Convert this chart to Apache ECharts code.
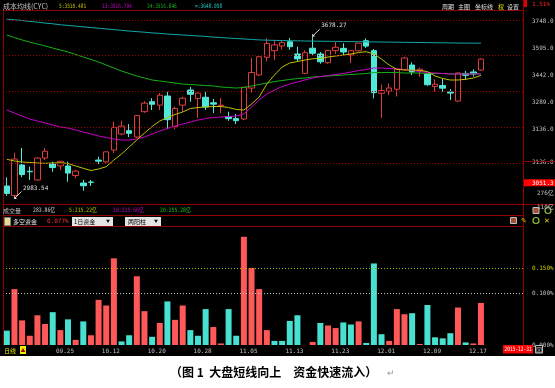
<!DOCTYPE html>
<html><head><meta charset="utf-8">
<script src="https://cdn.jsdelivr.net/npm/echarts@6/dist/echarts.min.js"></script>
<style>html,body{margin:0;padding:0;background:#fff}#c{width:555px;height:388px}</style>
</head><body><div id="c"></div>
<script>
const dates = ['09.15','09.16','09.17','09.18','09.21','09.22','09.23','09.24','09.25','09.28','09.29','09.30',
'10.08','10.09','10.12','10.13','10.14','10.15','10.16','10.19','10.20','10.21','10.22','10.23','10.26','10.27','10.28','10.29','10.30',
'11.02','11.03','11.04','11.05','11.06','11.09','11.10','11.11','11.12','11.13','11.16','11.17','11.18','11.19','11.20','11.23','11.24','11.25','11.26','11.27','11.30',
'12.01','12.02','12.03','12.04','12.07','12.08','12.09','12.10','12.11','12.14','12.15','12.16','12.17'];
const opens = [3037,2996,3127,3100,3063,3157,3131,3123,3122.6,3082,3049.8,3054,3148,3140,3191,3259.5,3273.6,3246.6,3354.9,3397.6,3383,3422,3290.7,3383,3447.7,3411,3416.7,3393,3380,3333.5,3326,3323.6,3456,3511.9,3587.6,3616,3635.8,3654,3601.7,3519,3626.5,3601.7,3564.5,3616,3626,3597.4,3615.8,3658.6,3616,3434,3442.6,3451,3536,3554.6,3530,3516,3462.6,3466.8,3439,3400.6,3518.6,3525,3533];
const closes = [3005.2,3152.3,3086.1,3097.9,3156.5,3185.6,3115.9,3142.7,3092.4,3100.8,3038.1,3052.8,3143.4,3183.2,3287.7,3293.2,3262.4,3338.1,3391.4,3386.7,3425.3,3320.7,3368.7,3412.4,3429.6,3434.3,3375.2,3387.3,3382.6,3325.1,3316.7,3459.6,3522.8,3590,3646.9,3640.5,3650.3,3632.9,3580.8,3607,3604.8,3568.5,3617.1,3630.5,3610.3,3616.1,3647.9,3635.6,3436.3,3445.4,3456.3,3536.9,3584.8,3525,3536.9,3470.1,3472.4,3455.5,3434.6,3520.7,3510.4,3516.2,3580];
const lows = [2995,2983.54,3075,3063,3060,3148,3098,3105,3055,3070,3017,3037,3131,3135,3178,3255,3246.6,3242,3350,3362,3362,3280,3280,3355,3397.6,3328,3362,3349,3349,3316,3302,3319,3437,3507,3570,3576,3620,3620,3568.7,3515,3596,3560,3560,3602,3597,3563,3612,3628,3412,3327.8,3426,3420,3530,3511.9,3505,3466,3440,3440,3405,3398,3490,3505,3530];
const highs = [3074,3180,3200,3120,3160,3200,3141,3144,3141,3106,3062.7,3063,3162,3184,3312,3316,3302,3340,3400,3413,3435,3440,3376,3419,3460.5,3436,3440,3409,3413,3355,3345,3460.5,3584.6,3597,3668.9,3661.6,3662,3670,3633,3618,3678.27,3610,3620,3653,3648,3618,3648.5,3668.9,3623,3470.8,3476,3538,3590,3566,3543,3520,3493.5,3496,3452,3523,3530,3536,3583];
const ma5 = [3151.2,3144,3139.7,3137.5,3135.4,3134.1,3135.4,3136.7,3133.3,3122.6,3112.7,3103.3,3109.7,3119.6,3148.2,3174,3203.8,3233.8,3263.7,3291.6,3315.1,3330,3342.9,3353.6,3368.5,3372.8,3375,3377.1,3377.1,3372.8,3364.3,3362.1,3387.8,3417.7,3473.3,3511.9,3546.1,3563.2,3569.6,3576,3581.2,3583.3,3588.9,3593.1,3597.4,3601.7,3608.1,3611.5,3601.7,3580,3554.6,3536.2,3533.2,3533.2,3531.1,3526.8,3507.6,3496.9,3490.5,3490.5,3493.5,3499,3510.5];
const ma13 = [3362.1,3349.3,3336.5,3323.6,3315.1,3306.5,3298,3289.4,3285.1,3276.6,3268,3259.4,3250.9,3244.5,3238.1,3233.8,3233.8,3238.1,3246.6,3259.4,3272.3,3283,3293.7,3302.2,3310.8,3319.3,3325.8,3330,3332.2,3334.3,3336.5,3345,3375,3404.9,3430.6,3447.7,3462.7,3473.3,3481.9,3490.5,3499,3505.4,3509.7,3514,3518.3,3524.7,3531.1,3535.4,3541.8,3541.8,3539.7,3537.5,3535.4,3531.1,3526.8,3522.5,3520.4,3518.3,3516.1,3516.1,3516.1,3516.5,3516.8];
const ma34 = [3683,3672,3661.6,3653,3644.5,3635.9,3627.4,3618.8,3610.2,3599.6,3588.9,3578.2,3567.5,3554.6,3541.8,3529,3518.3,3507.6,3499,3490.5,3486.2,3481.9,3477.6,3473.3,3471.2,3469.1,3467,3464.8,3460.5,3458.4,3456.2,3458.4,3464.8,3471.2,3477.6,3484,3488.3,3492.6,3496.9,3499,3503.3,3505.4,3507.6,3509.7,3511.9,3514,3516.1,3518.3,3522.5,3522.5,3522.5,3522.5,3520.4,3520.4,3520.4,3518.3,3518.3,3518.3,3516.1,3516.1,3516.5,3516.7,3516.8];
const maInf = [3751,3748,3745,3741,3738,3734,3731,3727,3724,3721,3718,3715,3712,3709,3706,3703,3700,3697.5,3695,3692,3690,3687,3685,3683,3681,3679,3677,3674,3672,3670,3668,3666,3664,3662,3661,3660,3659.4,3658.6,3658.2,3657.3,3656.9,3656.4,3656,3655.6,3655.2,3654.7,3654.3,3653.9,3653.5,3653,3652.6,3652.2,3651.7,3651.3,3650.9,3650.5,3650,3649.6,3649.2,3648.7,3648.4,3648.2,3648.1];
const maNames = ['5','13','34','∞'];
const maLast = ['3510.481','3516.794','3516.846','3648.058'];
const gridPrices = [3748,3595,3442,3289,3136];
const priceTickLabels = [3748,3595,3442,3289,3136];
const lowerPriceLabels = [3136];
const cursorPrice = 3051.3;
const flow = [-0.028,0.109,0.048,0.018,0.058,0.041,-0.064,0.029,-0.050,0.010,-0.046,0.019,0.088,0.077,0.169,-0.007,-0.019,0.134,0.066,-0.016,0.043,-0.085,0.049,0.077,-0.029,-0.018,-0.070,0.035,0.003,-0.070,-0.018,0.211,0.150,0.109,0.029,-0.008,-0.008,-0.047,-0.058,0,0.006,-0.043,0.038,0.033,-0.044,-0.040,0.046,-0.004,-0.159,-0.021,0.008,0.070,0.060,-0.062,0.002,-0.078,-0.015,-0.013,-0.023,0.073,-0.005,0.003,0.082];
const flowTicks = [0, 0.10, 0.15];
const flowRefs = [0.15, 0.10];
const dateTicks = ['09.25','10.12','10.20','10.28','11.05','11.13','11.23','12.01','12.09','12.17'];
const volTexts = ['成交量','283.86亿','5:215.22亿','10:215.66亿','20:255.28亿'];
const volAxisTexts = ['276亿','110亿'];
const menuTexts = ['周期','主图','坐标线','权','设置'];
const caption = '（图 1  大盘短线向上　资金快速流入）';

const MONO = '"DejaVu Sans Mono","Noto Sans CJK SC"';
const CJK = '"Noto Sans CJK SC"';
const RED = '#dc3c3c', TEAL = '#50e8d8';
const xCats = dates.concat(['','','','','']);

let hiIdx = 0, loIdx = 0;
highs.forEach((v,i)=>{ if (v > highs[hiIdx]) hiIdx = i; });
lows.forEach((v,i)=>{ if (v < lows[loIdx]) loIdx = i; });

function T(text, x, y, fill, font, extra) {
  return Object.assign({type:'text', x:x, y:y, z:50, silent:true,
    style:{text:text, fill:fill, font:font, verticalAlign:'middle', align:'left'}}, extra||{});
}
function L(x1,y1,x2,y2,c,dash){
  return {type:'line', z:40, silent:true, shape:{x1:x1,y1:y1,x2:x2,y2:y2}, style:{stroke:c||'#900000', lineWidth:1, lineDash:dash||null}};
}
function R(x,y,w,h,fill,stroke){
  return {type:'rect', z:45, silent:true, shape:{x:x,y:y,width:w,height:h}, style:{fill:fill, stroke:stroke||null, lineWidth:1}};
}

const maColors = ['#c0c000','#c800c8','#18b018','#10a8a8'];
const graphics = [
  R(0,356,555,32,'#fff'),
  T(caption,170,372,'#000','bold 12px '+CJK),
  T('↵',387,373,'#999','9px '+CJK),
  // frame
  L(3,10.5,523,10.5), L(3.5,10,3.5,346), L(523.5,0,523.5,346),
  L(3,204.5,555,204.5), L(3,215.5,523,215.5), L(3,226.5,523,226.5),
  L(523,161.5,555,161.5),
  // header
  T('成本均线(CYC)',3,6.5,'#c0c0c0','7px '+CJK),
  T(maNames[0]+':'+maLast[0],59,6.5,maColors[0],'6px '+MONO,{scaleX:0.75}),
  T(maNames[1]+':'+maLast[1],102,6.5,maColors[1],'6px '+MONO,{scaleX:0.75}),
  T(maNames[2]+':'+maLast[2],147,6.5,maColors[2],'6px '+MONO,{scaleX:0.75}),
  T(maNames[3]+':'+maLast[3],195,6.5,'#20c8c8','6px '+MONO,{scaleX:0.75}),
  T(menuTexts[0],442,6.5,'#e0e0e0','6px '+CJK),
  T(menuTexts[1],458,6.5,'#e0e0e0','6px '+CJK),
  T(menuTexts[2],475,6.5,'#e0e0e0','6px '+CJK),
  T(menuTexts[3],498,6.5,'#e0e000','6px '+CJK),
  T(menuTexts[4],507,6.5,'#e0e0e0','6px '+CJK),
  R(524,0,3,7,'#e00000'),
  T('1.51%',532,4,'#ff2020','6px '+MONO),
  // volume row
  T(volTexts[0],3,210.5,'#c0c0c0','6px '+CJK),
  T(volTexts[1],33,210.5,'#d0d0d0','6px '+MONO,{scaleX:0.8}),
  T(volTexts[2],69,210.5,maColors[0],'6px '+MONO,{scaleX:0.8}),
  T(volTexts[3],113,210.5,maColors[1],'6px '+MONO,{scaleX:0.8}),
  T(volTexts[4],160,210.5,'#20c020','6px '+MONO,{scaleX:0.8}),
  T(volAxisTexts[0],537,193,'#c0c0c0','6px '+MONO),
  T(volAxisTexts[1],537,207,'#c0c0c0','6px '+MONO),
  // money row
  R(4.5,217.5,6,8,'#e8dc90','#808080'),
  T('多空资金',13,221.5,'#e8e8e8','6px '+CJK),
  T('0.077%',47,221.5,'#ff3030','6px '+MONO),
  R(72,217,41,9,'#e4e4e4'),
  T('1日资金',74,221.5,'#000','6px '+CJK),
  T('▼',106,221.5,'#000','4px '+CJK),
  R(125,217,36,9,'#e4e4e4'),
  T('两阳柱',128,221.5,'#000','6px '+CJK),
  T('▼',154,221.5,'#000','4px '+CJK),
  // icons
  R(533,207.5,6,6,'#a05030','#c0c0c0'),
  {type:'circle', z:45, silent:true, shape:{cx:548,cy:210.5,r:3}, style:{fill:'#000',stroke:'#90c040',lineWidth:1.2}},
  R(510.5,217.5,6,6,'#a05030','#c0c0c0'),
  T('✎',521,220.5,'#d0c000','7px '+CJK),
  {type:'circle', z:45, silent:true, shape:{cx:536,cy:220.5,r:3}, style:{fill:'#000',stroke:'#90c040',lineWidth:1.2}},
  T('✕',544,220.5,'#e0d000','7px '+CJK),
  // date row
  T('日线',4,351,'#e0e000','6px '+CJK),
  R(20,346,6,8,'#f0f000'),
  T('▲',20.5,350.5,'#a00000','5px '+CJK),
  R(503,345,30,8.5,'#ff0000'),
  T('2015-12-31',504.5,349.5,'#fff','6px '+MONO,{scaleX:0.75}),
  R(535.5,345.5,7,7.5,'#000','#c0c0c0'),
  T('図',536,349.5,'#c0c0c0','6px '+CJK)
];

const candleData = dates.map((d,i)=>[opens[i],closes[i],lows[i],highs[i]]);
const arrowPath = 'path://M0,10L10,0M0,10L0,7M0,10L3,10';
function annot(idx, val){
  return {coord:[idx,val], value:val, symbol:arrowPath, symbolSize:[7,7], symbolOffset:[3.5,-3.5],
    itemStyle:{color:'rgba(0,0,0,0)', borderColor:'#e0e0e0', borderWidth:1},
    label:{show:true, position:'right', distance:1, offset:[0,-7], color:'#e0e0e0', fontSize:6, fontFamily:MONO,
      formatter:(p)=>Number(p.value).toFixed(2)}};
}

const option = {
  backgroundColor:'#000',
  animation:false,
  grid:[
    {left:3, right:32, top:10, height:194, containLabel:false, outerBoundsMode:'none'},
    {left:3, right:32, top:226, height:119, containLabel:false, outerBoundsMode:'none'}
  ],
  xAxis:[
    {type:'category', gridIndex:0, data:xCats, axisLine:{show:false}, axisTick:{show:false}, axisLabel:{show:false}, splitLine:{show:false}},
    {type:'category', gridIndex:1, data:xCats, axisLine:{show:false}, axisTick:{show:false}, splitLine:{show:false},
      axisLabel:{interval:0, color:'#c0c0c0', fontSize:6, fontFamily:MONO, margin:3, padding:[0,6,0,0],
        formatter:(v)=> dateTicks.indexOf(v) >= 0 ? v : ''}}
  ],
  yAxis:[
    {type:'value', gridIndex:0, min:2960, max:3790, position:'right', splitLine:{show:false}, axisLine:{show:false}, axisTick:{show:false},
      axisLabel:{customValues: lowerPriceLabels.concat([cursorPrice]), margin:0,
        formatter:(v)=> v === cursorPrice ? '{b|'+v.toFixed(1)+'}' : '{a|'+v.toFixed(1)+'}',
        rich:{a:{color:'#c0c0c0', fontSize:6, fontFamily:MONO, padding:[0,0,0,9]},
              b:{color:'#fff', backgroundColor:'#ff0000', fontSize:6, fontFamily:MONO, padding:[1,3,0,9]}}}},
    {type:'value', gridIndex:0, min:2710.9, max:3810.3, position:'right', splitLine:{show:false}, axisLine:{show:false}, axisTick:{show:false},
      axisLabel:{customValues: priceTickLabels, margin:9, color:'#c0c0c0', fontSize:6, fontFamily:MONO, formatter:(v)=>v.toFixed(1)}},
    {type:'value', gridIndex:1, min:0, max:0.232, position:'right', splitLine:{show:false}, axisLine:{show:false}, axisTick:{show:false},
      axisLabel:{customValues: flowTicks, margin:9, fontSize:6, fontFamily:MONO,
        color:(v)=> (Number(v) >= 0.15 ? '#c8c800' : '#c0c0c0'), formatter:(v)=>v.toFixed(3)+'%'}}
  ],
  series:[
    {type:'candlestick', xAxisIndex:0, yAxisIndex:0, data:candleData, barWidth:6,
      itemStyle:{color:'#000', color0:TEAL, borderColor:RED, borderColor0:TEAL, borderWidth:1},
      markLine:{silent:true, symbol:['none','none'], label:{show:false},
        lineStyle:{color:'#a00000', type:[1,2], width:1}, data:gridPrices.map(v=>({yAxis:v}))},
      markPoint:{silent:true, data:[annot(hiIdx, highs[hiIdx]), annot(loIdx, lows[loIdx])]}},
    {type:'line', xAxisIndex:0, yAxisIndex:0, data:maInf, showSymbol:false, symbol:'none', lineStyle:{color:maColors[3], width:1}},
    {type:'line', xAxisIndex:0, yAxisIndex:0, data:ma34, showSymbol:false, symbol:'none', lineStyle:{color:maColors[2], width:1}},
    {type:'line', xAxisIndex:0, yAxisIndex:0, data:ma13, showSymbol:false, symbol:'none', lineStyle:{color:maColors[1], width:1}},
    {type:'line', xAxisIndex:0, yAxisIndex:0, data:ma5, showSymbol:false, symbol:'none', lineStyle:{color:maColors[0], width:1}},
    {type:'bar', xAxisIndex:1, yAxisIndex:2, barWidth:6,
      data:flow.map(v=>({value:Math.abs(v), itemStyle:{color: v >= 0 ? '#ff5858' : '#48e0d0'}})),
      markLine:{silent:true, symbol:['none','none'], label:{show:false},
        data:flowRefs.map((v,i)=>({yAxis:v, lineStyle:{color: i===0 ? '#b8b800' : '#c0c0c0', type:[1,2], width:1}}))}}
  ],
  graphic: graphics
};
const chart = echarts.init(document.getElementById('c'), null, {renderer:'canvas'});
chart.setOption(option);
</script></body></html>
